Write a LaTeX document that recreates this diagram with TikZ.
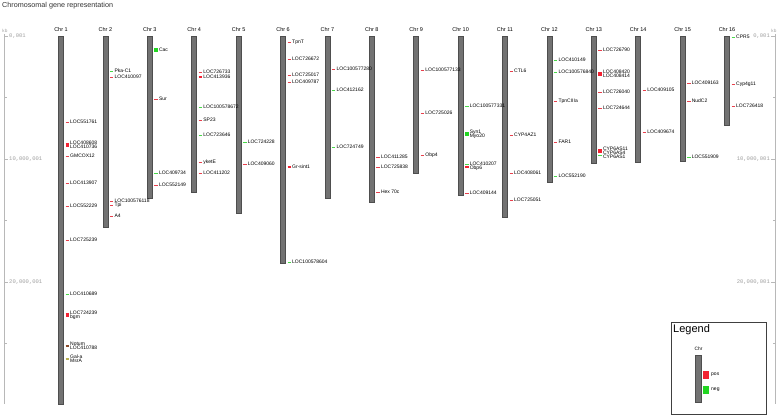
\documentclass[tikz,border=0pt]{standalone}
\usepackage{fontspec}
\setmainfont{Liberation Sans}
\newfontfamily\axisfont{Liberation Mono}
\usetikzlibrary{positioning}
\definecolor{chrgray}{HTML}{727272}
\definecolor{chredge}{HTML}{4E4E4E}
\definecolor{markred}{HTML}{E8404C}
\definecolor{markgreen}{HTML}{48D848}
\definecolor{boxred}{HTML}{F22232}
\definecolor{boxgreen}{HTML}{22D622}
\definecolor{markbrown}{HTML}{8A4A2A}
\definecolor{markolive}{HTML}{B8B050}
\definecolor{axisgray}{HTML}{B8B8B8}
\definecolor{axistext}{HTML}{A0A0A0}
\tikzset{
  chrom/.style={rectangle, fill=chrgray, draw=chredge, line width=0.6pt,
    minimum width=5pt, inner sep=0pt},
  chrlabel/.style={font=\fontsize{5.5}{6}\selectfont, inner sep=0pt},
  genelabel/.style={font=\fontsize{5}{5}\selectfont, inner sep=0pt, anchor=west},
  axislabel/.style={font=\axisfont\fontsize{5.5}{6}\selectfont, text=axistext, inner sep=0pt},
  mpos/.style={draw=markred, line width=1pt},
  mneg/.style={draw=markgreen, line width=1pt},
  mposthick/.style={draw=boxred, line width=1.6pt},
  mposbox/.style={draw=boxred, line width=4pt},
  mnegbox/.style={draw=boxgreen, line width=4pt},
  mbrown/.style={draw=markbrown, line width=2pt},
  molive/.style={draw=markolive, line width=2.5pt},
  mnone/.style={draw=none}
}
\begin{document}
\begin{tikzpicture}[x=1pt, y=-1pt]
  \useasboundingbox[fill=white] (0,0) rectangle (778,416);

  % Titel
  \node[anchor=north west, inner sep=0pt, text=black!80,
    font=\fontsize{7.2}{8}\selectfont] (title) at (2,2.5) {Chromosomal gene representation};

  % Chromosomen
  \foreach \n/\bot in {1/404, 2/227, 3/198, 4/192, 5/213, 6/263, 7/198, 8/202,
                       9/173, 10/195, 11/217, 12/182, 13/163, 14/162, 15/161, 16/125}{
    \pgfmathsetmacro\cx{61+(\n-1)*44.4}
    \pgfmathsetmacro\cy{(36+\bot)/2}
    \pgfmathsetmacro\ch{\bot-36}
    \node[chrom, minimum height=\ch pt] (c\n) at (\cx,\cy) {};
    \node[chrlabel, above=3.5pt of c\n] (t\n) {Chr \n};
  }

  % Gene
  \foreach \c/\m/\mk/\ly/\txt in {
      1/122/mpos/122/LOC551761, 1/145/mposbox/143/LOC408608, 1/145/mnone/147/LOC410736,
      1/156/mpos/156/GMCOX12, 1/183/mpos/183/LOC413907, 1/206/mpos/206/LOC552229,
      1/240/mpos/240/LOC725239, 1/294/mneg/294/LOC410689,
      1/315/mposbox/313/LOC724239, 1/315/mnone/317/bgm,
      1/346/mbrown/344/Notum, 1/346/mnone/348/LOC410788,
      1/359/molive/357/Gal-a, 1/359/mnone/361/MsrA,
      2/71/mneg/71/Pka-C1, 2/77/mpos/77/LOC410097, 2/201/mpos/201/LOC100576118,
      2/205/mpos/205/Tpi, 2/216/mpos/216/A4,
      3/50/mnegbox/50/Cac, 3/99/mpos/99/Sur, 3/173/mneg/173/LOC409734,
      3/185/mpos/185/LOC552149,
      4/72/mpos/72/LOC726733, 4/77/mposthick/77/LOC413936, 4/107/mneg/107/LOC100578672,
      4/120/mpos/120/SP23, 4/135/mneg/135/LOC723646, 4/162/mpos/162/yketE,
      4/173/mpos/173/LOC411202,
      5/142/mneg/142/LOC724228, 5/164/mpos/164/LOC409060,
      6/42/mpos/42/TpnT, 6/59/mpos/59/LOC726672, 6/75/mpos/75/LOC725017,
      6/82/mpos/82/LOC409787, 6/167/mposthick/167/Gr-sint1, 6/262/mneg/262/LOC100578604,
      7/69/mpos/69/LOC100577280, 7/90/mneg/90/LOC412162, 7/147/mneg/147/LOC724749,
      8/157/mpos/157/LOC411285, 8/167/mpos/167/LOC725838, 8/192/mpos/192/Hex 70c,
      9/70/mpos/70/LOC100577133, 9/113/mpos/113/LOC725026, 9/155/mpos/155/Obp4,
      10/106/mneg/106/LOC100577331, 10/134/mnegbox/132/Syn1, 10/134/mnone/136.5/Myo20,
      10/164/mneg/164/LOC410207, 10/167/mposthick/168/Obp6, 10/193/mpos/193/LOC409144,
      11/71/mpos/71/CTL6, 11/135/mpos/135/CYP4AZ1, 11/173/mpos/173/LOC408061,
      11/200/mpos/200/LOC725051,
      12/60/mneg/60/LOC410149, 12/72/mneg/72/LOC100576840, 12/101/mpos/101/TpnCIIIa,
      12/142/mpos/142/FAR1, 12/176/mneg/176/LOC552190,
      13/50/mpos/50/LOC726790, 13/74/mposbox/72/LOC408420, 13/74/mnone/76/LOC408414,
      13/92/mpos/92/LOC726040, 13/108/mpos/108/LOC724644,
      13/151/mposbox/148.5/CYP6AS11, 13/151/mnone/152.5/CYP6AS4, 13/155/mneg/156.5/CYP6AS1,
      14/90/mpos/90/LOC409105, 14/132/mpos/132/LOC409674,
      15/83/mpos/83/LOC409163, 15/101/mpos/101/NudC2, 15/157/mneg/157/LOC551909,
      16/37/mneg/37/CPR5, 16/84/mpos/84/Cyp4g11, 16/106/mpos/106/LOC726418}{
    \pgfmathsetmacro\gx{61+(\c-1)*44.4+4.5}
    \draw[\mk] (\gx,\m) -- ++(3.5,0);
    \node[genelabel] (g\c-\ly) at (\gx+4.5,\ly) {\txt};
  }

  % Skalen
  \draw[axisgray] (4,34) -- (4,404);
  \draw[axisgray] (775,34) -- (775,404);
  \foreach \t/\lab in {36/{0,001}, 159/{10,000,001}, 282/{20,000,001}}{
    \draw[axisgray] (4,\t) -- (8,\t);
    \draw[axisgray] (775,\t) -- (771,\t);
    \node[axislabel, anchor=west] (la\t) at (9,\t) {\lab};
    \node[axislabel, anchor=east] (ra\t) at (770,\t) {\lab};
  }
  \foreach \t in {97.5, 220.5, 343.5}{
    \draw[axisgray] (4,\t) -- (6.5,\t);
    \draw[axisgray] (775,\t) -- (772.5,\t);
  }
  \node[axislabel, font=\axisfont\fontsize{4.5}{5}\selectfont, anchor=west] (kbl) at (2,31) {kb};
  \node[axislabel, font=\axisfont\fontsize{4.5}{5}\selectfont, anchor=west] (kbr) at (771,31) {kb};

  % Legende
  \draw[black!75, line width=0.6pt] (671,322) rectangle (766,414);
  \node[anchor=west, inner sep=0pt, font=\fontsize{11}{12}\selectfont] (legtitle) at (673,330) {Legend};
  \node[chrom, minimum height=47pt, minimum width=6pt] (legchr) at (698.5,378.5) {};
  \node[chrlabel, font=\fontsize{4.8}{5}\selectfont, above=3.5pt of legchr] (legchrlab) {Chr};
  \fill[boxred] (703,371) rectangle (708.5,378.5);
  \fill[boxgreen] (703,386) rectangle (708.5,394);
  \node[genelabel] (legpos) at (711,374.5) {pos};
  \node[genelabel] (legneg) at (711,390) {neg};
\end{tikzpicture}
\end{document}
